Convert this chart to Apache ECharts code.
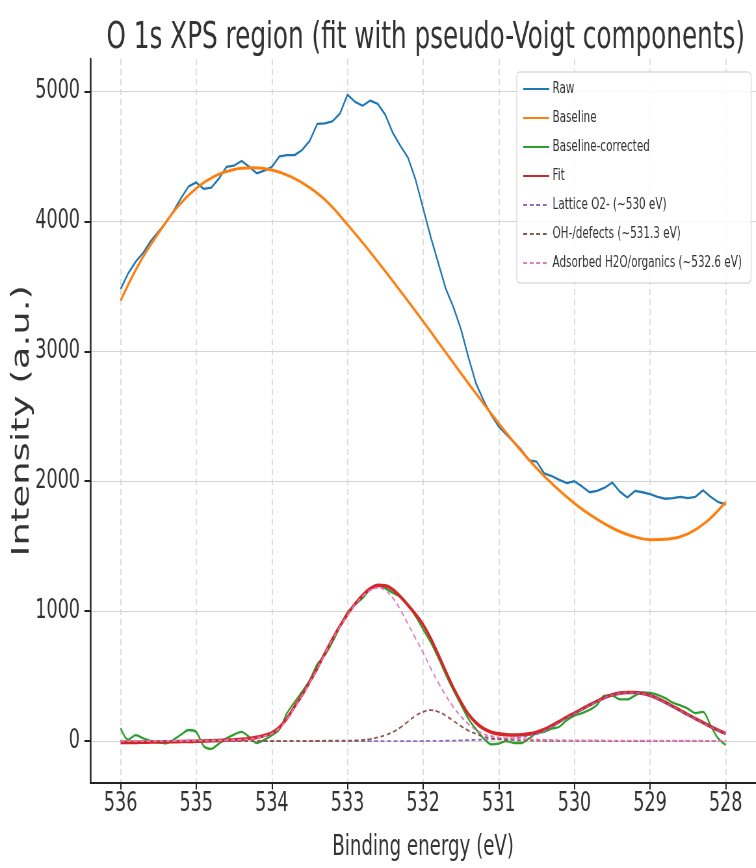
<!DOCTYPE html>
<html>
<head>
<meta charset="utf-8">
<script src="https://cdn.jsdelivr.net/npm/echarts@6/dist/echarts.min.js"></script>
<style>
html, body { margin: 0; padding: 0; overflow: hidden; background: #fff; width: 756px; height: 868px; }
#main { width: 1163px; height: 868px; transform: scaleX(0.65); transform-origin: 0 0; }
</style>
</head>
<body>
<div id="main"></div>
<script>
// Binding energy grid (eV)
const energy = [
  536.0,535.9,535.8,535.7,535.6,535.5,535.4,535.3,535.2,535.1,
  535.0,534.9,534.8,534.7,534.6,534.5,534.4,534.3,534.2,534.1,
  534.0,533.9,533.8,533.7,533.6,533.5,533.4,533.3,533.2,533.1,
  533.0,532.9,532.8,532.7,532.6,532.5,532.4,532.3,532.2,532.1,
  532.0,531.9,531.8,531.7,531.6,531.5,531.4,531.3,531.2,531.1,
  531.0,530.9,530.8,530.7,530.6,530.5,530.4,530.3,530.2,530.1,
  530.0,529.9,529.8,529.7,529.6,529.5,529.4,529.3,529.2,529.1,
  529.0,528.9,528.8,528.7,528.6,528.5,528.4,528.3,528.2,528.1,
  528.0
];
const raw = [
  3480,3600,3690,3760,3850,3920,3990,4080,4180,4270,
  4300,4250,4260,4330,4420,4430,4465,4420,4370,4390,
  4420,4500,4510,4510,4550,4620,4750,4755,4770,4830,
  4975,4920,4890,4930,4905,4820,4680,4580,4490,4320,
  4100,3880,3680,3480,3340,3170,2950,2750,2620,2510,
  2420,2360,2300,2240,2160,2150,2060,2040,2010,1985,
  2000,1960,1915,1925,1950,1990,1920,1875,1925,1915,
  1900,1880,1865,1870,1880,1870,1880,1930,1880,1840,
  1820
];
const baselineEnergy = [
  536.0,535.75,535.5,535.25,535.0,534.75,534.5,534.25,534.0,533.75,
  533.5,533.25,533.0,532.75,532.5,532.25,532.0,531.75,531.5,531.25,
  531.0,530.75,530.5,530.25,530.0,529.75,529.5,529.25,529.0,528.75,
  528.5,528.25,528.0
];
const baseline = [
  3390,3680,3910,4110,4255,4350,4400,4412,4395,4345,
  4260,4140,3975,3800,3615,3425,3230,3030,2830,2635,
  2445,2265,2100,1955,1830,1725,1640,1580,1550,1555,
  1595,1690,1840
];
const corrected = [
  100,10,45,20,0,-10,-18,10,50,85,
  70,-40,-60,-20,20,50,70,30,-15,10,
  45,90,215,300,380,470,590,660,760,880,
  990,1050,1100,1170,1200,1175,1140,1110,1050,960,
  860,760,640,510,390,280,170,90,20,-25,
  -20,0,-15,-15,20,60,70,95,110,160,
  195,215,240,280,350,350,320,320,350,375,
  370,355,330,295,275,250,215,225,120,20,
  -30
];
const fit = [
  -10,-10,-10,-9,-8,-7,-6,-5,-4,-3,
  -2,0,2,4,6,9,13,19,28,42,
  63,105,175,265,355,455,560,675,785,885,
  975,1055,1122,1172,1198,1195,1165,1110,1045,975,
  895,790,665,535,410,300,205,140,95,68,
  55,48,46,48,55,68,88,118,150,184,
  215,246,277,307,335,356,369,374,373,366,
  351,328,298,267,236,203,172,142,112,83,
  57
];
const lattice = [
  0,0,0,0,0,0,0,0,0,0,
  0,0,0,0,0,0,0,0,0,0,
  0,0,0,0,0,0,0,0,0,0,
  0,0,0,0,0,0,0,0,0,0,
  0,1,1,2,3,5,7,9,11,13,
  16,19,23,29,38,52,76,108,142,178,
  210,242,273,303,332,353,366,372,371,364,
  349,326,296,265,234,201,170,140,110,81,
  55
];
const ohDefects = [
  0,0,0,0,0,0,0,0,0,0,
  0,0,0,0,0,0,0,0,0,0,
  0,0,0,1,1,1,1,2,2,2,
  3,4,8,15,28,45,70,105,150,195,
  225,238,225,195,155,115,80,55,35,22,
  14,10,7,5,4,3,2,2,1,1,
  1,1,1,0,0,0,0,0,0,0,
  0,0,0,0,0,0,0,0,0,0,
  0
];
const adsorbed = [
  0,0,0,0,0,1,1,1,2,2,
  3,3,4,5,6,8,11,16,24,37,
  58,100,170,260,350,450,555,670,780,880,
  970,1050,1115,1160,1180,1160,1100,1010,900,790,
  680,560,450,350,260,190,130,85,55,38,
  28,22,18,15,13,11,9,8,7,6,
  5,5,4,4,4,3,3,3,3,3,
  2,2,2,2,2,2,2,2,1,1,
  1
];
const xTicks = [536, 535, 534, 533, 532, 531, 530, 529, 528];
const yTicks = [0, 1000, 2000, 3000, 4000, 5000];
const seriesNames = ['Raw', 'Baseline', 'Baseline-corrected', 'Fit',
  'Lattice O2- (~530 eV)', 'OH-/defects (~531.3 eV)', 'Adsorbed H2O/organics (~532.6 eV)'];

const pairs = (xs, ys) => xs.map((x, i) => [x, ys[i]]);
const FONT = 'DejaVu Sans';

const chart = echarts.init(document.getElementById('main'), null, { renderer: 'canvas' });
chart.setOption({
  animation: false,
  backgroundColor: '#ffffff',
  title: {
    text: 'O 1s XPS region (fit with pseudo-Voigt components)',
    left: 650, top: 14, textAlign: 'center',
    textStyle: { fontFamily: FONT, fontSize: 38, fontWeight: 'normal', color: '#333' }
  },
  legend: {
    orient: 'vertical', left: 795, top: 72,
    padding: [9, 14, 12, 9],
    itemWidth: 40, itemHeight: 14, itemGap: 13,
    backgroundColor: 'rgba(255,255,255,0.85)',
    borderColor: '#cccccc', borderWidth: 1, borderRadius: 4,
    itemStyle: { opacity: 0, borderWidth: 0 },
    textStyle: { fontFamily: FONT, fontSize: 16, color: '#333' },
    data: seriesNames
  },
  grid: { left: 139, right: -11.8, top: 59, bottom: 85.4, containLabel: false },
  xAxis: {
    type: 'value', min: 527.6, max: 536.4, inverse: true,
    name: 'Binding energy (eV)', nameLocation: 'middle', nameGap: 51,
    nameTextStyle: { fontFamily: FONT, fontSize: 28, color: '#333' },
    axisLine: { show: true, onZero: false, lineStyle: { color: '#222', width: 2 } },
    axisTick: { show: true, inside: false, length: 7, customValues: xTicks, lineStyle: { color: '#222', width: 2 } },
    axisLabel: { customValues: xTicks, margin: 8, fontFamily: FONT, fontSize: 27, color: '#333',
      formatter: v => String(v) },
    splitLine: { show: true, lineStyle: { color: '#d2d2d2', width: 1.5, type: [6, 4] } }
  },
  yAxis: {
    type: 'value', min: -320, max: 5250,
    name: 'Intensity (a.u.)', nameLocation: 'middle', nameGap: 86, nameMoveOverlap: false,
    nameTextStyle: { fontFamily: FONT, fontSize: 37, color: '#333' },
    axisLine: { show: true, onZero: false, lineStyle: { color: '#222', width: 2.5 } },
    axisTick: { show: true, inside: false, length: 9, customValues: yTicks, lineStyle: { color: '#222', width: 2 } },
    axisLabel: { customValues: yTicks, margin: 16, fontFamily: FONT, fontSize: 27, color: '#333',
      formatter: v => String(v) },
    splitLine: { show: true, lineStyle: { color: '#d4d4d4', width: 1.2, type: 'solid' } }
  },
  series: [
    { name: seriesNames[0], type: 'line', symbol: 'none', data: pairs(energy, raw),
      lineStyle: { color: '#1f77b4', width: 2.3 }, itemStyle: { color: '#1f77b4' } },
    { name: seriesNames[1], type: 'line', symbol: 'none', smooth: 0.4, data: pairs(baselineEnergy, baseline),
      lineStyle: { color: '#ff7f0e', width: 3 }, itemStyle: { color: '#ff7f0e' } },
    { name: seriesNames[2], type: 'line', symbol: 'none', smooth: 0.3, data: pairs(energy, corrected),
      lineStyle: { color: '#2ca02c', width: 2.3 }, itemStyle: { color: '#2ca02c' } },
    { name: seriesNames[3], type: 'line', symbol: 'none', smooth: 0.4, data: pairs(energy, fit),
      lineStyle: { color: '#d62728', width: 3.6 }, itemStyle: { color: '#d62728' } },
    { name: seriesNames[4], type: 'line', symbol: 'none', smooth: 0.4, data: pairs(energy, lattice),
      lineStyle: { color: '#9467bd', width: 1.8, type: [6, 4] }, itemStyle: { color: '#9467bd' } },
    { name: seriesNames[5], type: 'line', symbol: 'none', smooth: 0.4, data: pairs(energy, ohDefects),
      lineStyle: { color: '#8c564b', width: 1.8, type: [6, 4] }, itemStyle: { color: '#8c564b' } },
    { name: seriesNames[6], type: 'line', symbol: 'none', smooth: 0.4, data: pairs(energy, adsorbed),
      lineStyle: { color: '#e377c2', width: 1.8, type: [6, 4] }, itemStyle: { color: '#e377c2' } }
  ]
});
</script>
</body>
</html>
